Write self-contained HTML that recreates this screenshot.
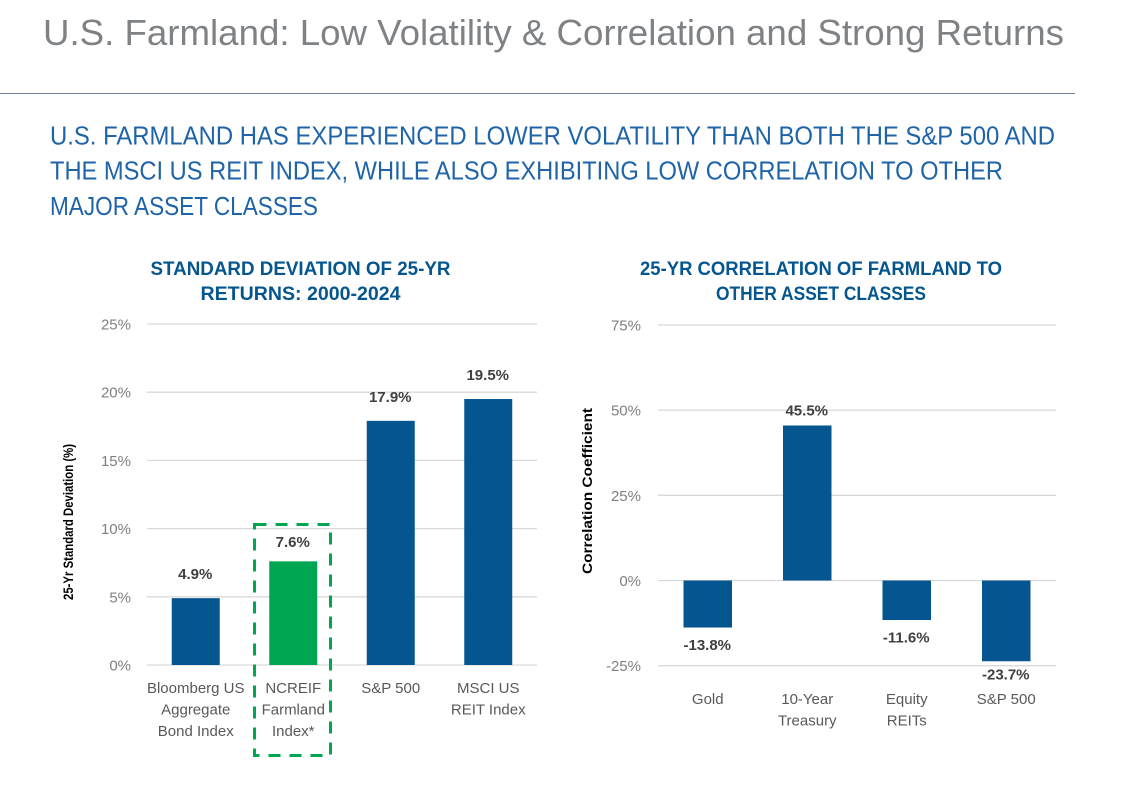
<!DOCTYPE html>
<html lang="en">
<head>
<meta charset="utf-8">
<title>U.S. Farmland: Low Volatility &amp; Correlation and Strong Returns</title>
<style>
html,body{margin:0;padding:0;background:#fff;}
svg{display:block;font-family:"Liberation Sans",Arial,sans-serif;}
.sub{font-size:25.5px;fill:#1f64a8;}
.ct{font-size:19px;font-weight:bold;fill:#05568f;text-anchor:middle;}
.tick{font-size:15px;fill:#7f7f7f;text-anchor:end;}
.cat{font-size:15px;fill:#595959;text-anchor:middle;}
.val{font-size:15px;font-weight:bold;fill:#404040;text-anchor:middle;}
.axt{font-size:14px;font-weight:bold;fill:#000;text-anchor:middle;}
</style>
</head>
<body>
<svg id="page" xmlns="http://www.w3.org/2000/svg" width="1139" height="794" viewBox="0 0 1139 794">
  <rect width="1139" height="794" fill="#fff"/>
  <text x="43" y="45" font-size="36" fill="#7f8285" textLength="1021" lengthAdjust="spacingAndGlyphs">U.S. Farmland: Low Volatility &amp; Correlation and Strong Returns</text>
  <line x1="0" x2="1075" y1="93.5" y2="93.5" stroke="#6f8296" stroke-width="1"/>
  <g>
    <text class="sub" x="50" y="144.5" textLength="1005" lengthAdjust="spacingAndGlyphs">U.S. FARMLAND HAS EXPERIENCED LOWER VOLATILITY THAN BOTH THE S&amp;P 500 AND</text>
    <text class="sub" x="50" y="179.5" textLength="953" lengthAdjust="spacingAndGlyphs">THE MSCI US REIT INDEX, WHILE ALSO EXHIBITING LOW CORRELATION TO OTHER</text>
    <text class="sub" x="50" y="215" textLength="268" lengthAdjust="spacingAndGlyphs">MAJOR ASSET CLASSES</text>
  </g>
  <g>
    <text class="ct" x="300.5" y="275" textLength="300" lengthAdjust="spacingAndGlyphs">STANDARD DEVIATION OF 25-YR</text>
    <text class="ct" x="300.5" y="300" textLength="200" lengthAdjust="spacingAndGlyphs">RETURNS: 2000-2024</text>
  </g>
  <g>
    <text class="ct" x="821" y="275" textLength="362" lengthAdjust="spacingAndGlyphs">25-YR CORRELATION OF FARMLAND TO</text>
    <text class="ct" x="821" y="300" textLength="210" lengthAdjust="spacingAndGlyphs">OTHER ASSET CLASSES</text>
  </g>
  <text class="axt" transform="translate(73,522) rotate(-90)" textLength="156" lengthAdjust="spacingAndGlyphs">25-Yr Standard Deviation (%)</text>
  <text class="axt" transform="translate(592,491) rotate(-90)" textLength="166" lengthAdjust="spacingAndGlyphs">Correlation Coefficient</text>
  <g id="left-chart"></g>
  <g id="right-chart"></g>
  <rect x="254.5" y="524.5" width="76" height="231" fill="none" stroke="#00a651" stroke-width="3" stroke-dasharray="12 9"/>
</svg>
<script>
const leftCategories = [["Bloomberg US","Aggregate","Bond Index"],["NCREIF","Farmland","Index*"],["S&P 500"],["MSCI US","REIT Index"]];
const leftValues = [4.9, 7.6, 17.9, 19.5];
const leftTicks = [0, 5, 10, 15, 20, 25];
const rightCategories = [["Gold"],["10-Year","Treasury"],["Equity","REITs"],["S&P 500"]];
const rightValues = [-13.8, 45.5, -11.6, -23.7];
const rightTicks = [-25, 0, 25, 50, 75];

const NS = 'http://www.w3.org/2000/svg';
function make(parent, tag, attrs, text) {
  const el = document.createElementNS(NS, tag);
  for (const k in attrs) el.setAttribute(k, attrs[k]);
  if (text !== undefined) el.textContent = text;
  parent.appendChild(el);
  return el;
}
function drawChart(root, prefix, cfg, categories, values, ticks) {
  const y = v => cfg.y0 - v * cfg.pxPerUnit;
  const band = (cfg.x1 - cfg.x0) / categories.length;
  const x = i => cfg.x0 + band * (i + 0.5);
  ticks.forEach(t => {
    const grid = make(root, 'line', {x1: cfg.x0, x2: cfg.x1, y1: y(t), y2: y(t), stroke: '#d9d9d9', 'stroke-width': 1.3});
    
    
    const label = make(root, 'text', {class: 'tick', x: cfg.tickX, y: y(t) + 5.5}, t + '%');
    
    
  });
  values.forEach((v, i) => {
    const top = Math.min(y(v), y(0));
    const h = Math.abs(y(v) - y(0));
    const bar = make(root, 'rect', {x: x(i) - cfg.barW / 2, y: top, width: cfg.barW, height: h, fill: cfg.color(i)});
    
    
    const ly = v >= 0 ? y(v) - cfg.above(i) : Math.min(y(v) + 22.5, y(cfg.labelFloor));
    const vl = make(root, 'text', {class: 'val', x: x(i) - 0.5, y: ly}, v.toFixed(1) + '%');
    
    
    categories[i].forEach((line, j) => {
      const cl = make(root, 'text', {class: 'cat', x: x(i), y: cfg.catY + j * 21.5}, line);
      
      
    });
  });
}
drawChart(document.getElementById('left-chart'), 'std-dev',
  {x0: 147, x1: 537, y0: 665, pxPerUnit: 13.64, tickX: 131, barW: 48, above: i => i === 1 ? 14.5 : 19, labelFloor: -5, catY: 693,
   color: i => i === 1 ? '#00a651' : '#055591'},
  leftCategories, leftValues, leftTicks);
drawChart(document.getElementById('right-chart'), 'correlation',
  {x0: 658, x1: 1056, y0: 580.5, pxPerUnit: 3.407, tickX: 641, barW: 48.5, above: () => 10, labelFloor: -29, catY: 704,
   color: () => '#055591'},
  rightCategories, rightValues, rightTicks);
</script>
</body>
</html>
